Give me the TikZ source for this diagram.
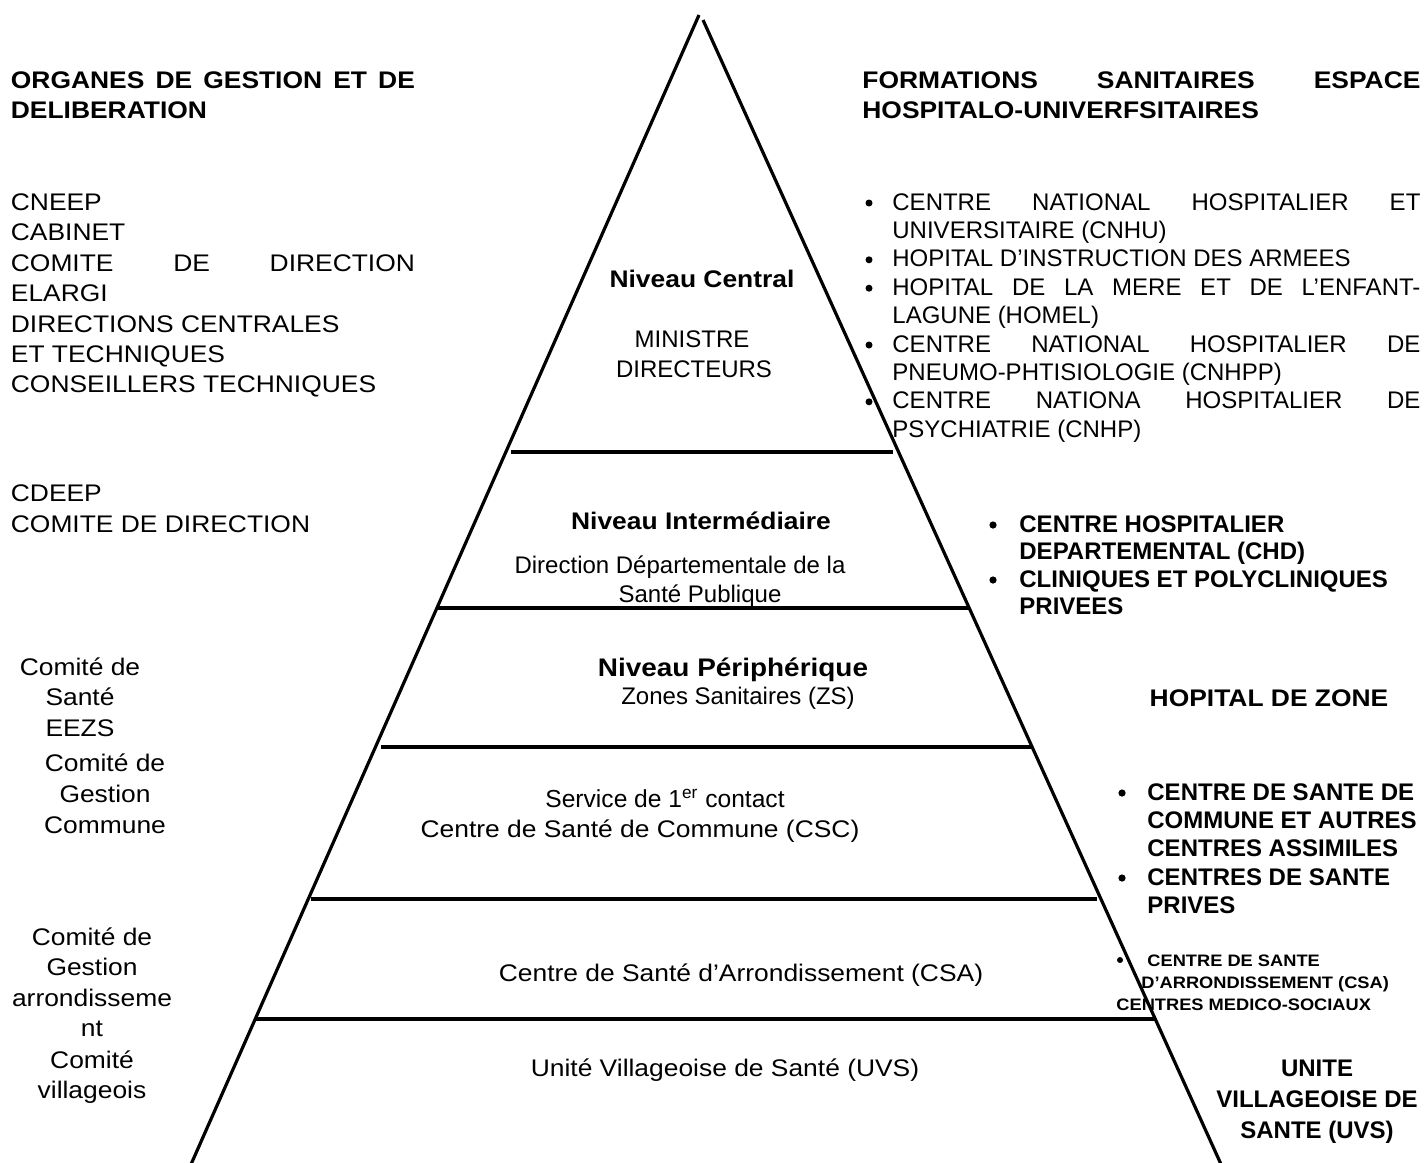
\documentclass[tikz,border=0pt]{standalone}
\usepackage{fontspec}
\setmainfont{Liberation Sans}[FakeStretch=1.1]
\newfontfamily\plainsans{Liberation Sans}

\tikzset{
  pyrside/.style={line width=1.6pt},
  tier/.style={line width=1.6pt},
  lefttxt/.style={inner sep=0pt,anchor=base west,font=\fontsize{12}{14}\selectfont},
  lefthead/.style={lefttxt,font=\fontsize{12}{14}\selectfont\bfseries},
  midtxt/.style={inner sep=0pt,anchor=base,font=\fontsize{12}{14}\selectfont},
  midplain/.style={inner sep=0pt,anchor=base,font=\plainsans\fontsize{12}{14}\selectfont},
  midhead/.style={midtxt,font=\fontsize{12}{14}\selectfont\bfseries},
  listtxt/.style={inner sep=0pt,anchor=base west,font=\plainsans\fontsize{12}{14}\selectfont},
  boldlist/.style={inner sep=0pt,anchor=base west,font=\plainsans\bfseries\fontsize{12}{14}\selectfont},
  boldmid/.style={inner sep=0pt,anchor=base,font=\plainsans\bfseries\fontsize{12}{14}\selectfont},
  smalllist/.style={inner sep=0pt,anchor=base west,font=\fontsize{8.3}{10}\selectfont\bfseries},
}

\begin{document}
\begin{tikzpicture}[x=0.5pt,y={(0pt,-0.5pt)}]
    \useasboundingbox (0,0) rectangle (1427,1162);

    % pyramid
    \coordinate (apexL) at (699,15);
    \coordinate (apexR) at (703,20);
    \coordinate (baseL) at (188.5,1170);
    \coordinate (baseR) at (1223.6,1170);
    \draw[pyrside] (apexL) -- (baseL);
    \draw[pyrside] (apexR) -- (baseR);

    \draw[tier] (511,452) -- (893,452);
    \draw[tier] (438,608) -- (968,608);
    \draw[tier] (381,747) -- (1032,747);
    \draw[tier] (311,899) -- (1097,899);
    \draw[tier] (256,1019) -- (1156,1019);

    % left column
    \node[lefthead] (orgA) at (10.5,88) {\makebox[202pt][s]{ORGANES DE GESTION ET DE}};
    \node[lefthead] (orgB) at (10.5,118) {DELIBERATION};

    \node[lefttxt] (cneep) at (10.5,210.5) {CNEEP};
    \node[lefttxt] (cabinet) at (10.5,240.9) {CABINET};
    \node[lefttxt] (codir) at (10.5,271.3) {\makebox[202pt][s]{COMITE DE DIRECTION}};
    \node[lefttxt] (elargi) at (10.5,301.7) {ELARGI};
    \node[lefttxt] (dircent) at (10.5,332.1) {DIRECTIONS CENTRALES};
    \node[lefttxt] (ettech) at (10.5,362.5) {ET TECHNIQUES};
    \node[lefttxt] (constech) at (10.5,392.9) {CONSEILLERS TECHNIQUES};

    \node[lefttxt] (cdeep) at (10.5,501.5) {CDEEP};
    \node[lefttxt] (codirB) at (10.5,532) {COMITE DE DIRECTION};

    \node[midtxt] (csA) at (80,675) {Comité de};
    \node[midtxt] (csB) at (80,705.5) {Santé};
    \node[midtxt] (csC) at (80,736) {EEZS};

    \node[midtxt] (cgA) at (105,771) {Comité de};
    \node[midtxt] (cgB) at (105,802) {Gestion};
    \node[midtxt] (cgC) at (105,833) {Commune};

    \node[midtxt] (caA) at (92,945) {Comité de};
    \node[midtxt] (caB) at (92,975.5) {Gestion};
    \node[midtxt] (caC) at (92,1006) {arrondisseme};
    \node[midtxt] (caD) at (92,1036.5) {nt};

    \node[midtxt] (cvA) at (92,1068) {Comité};
    \node[midtxt] (cvB) at (92,1098.5) {villageois};

    % levels inside the pyramid
    \node[midhead] (central) at (702,287) {Niveau Central};
    \node[midplain] (ministre) at (692,347) {MINISTRE};
    \node[midplain] (directeurs) at (694,377) {DIRECTEURS};

    \node[midhead] (interm) at (701,529) {Niveau Intermédiaire};
    \node[midplain] (ddspA) at (680,573) {Direction Départementale de la};
    \node[midplain] (ddspB) at (700,602) {Santé Publique};

    \node[midhead,font=\fontsize{12.7}{14}\selectfont\bfseries] (periph) at (733,676) {Niveau Périphérique};
    \node[midplain] (zones) at (738,704) {Zones Sanitaires (ZS)};

    \node[midplain,font=\plainsans\fontsize{12.3}{14}\selectfont] (contact) at (665,807) {Service de 1\textsuperscript{er} contact};
    \node[midtxt] (csc) at (640,837) {Centre de Santé de Commune (CSC)};

    \node[midtxt] (csa) at (741,981) {Centre de Santé d’Arrondissement (CSA)};

    \node[midtxt] (uvs) at (725,1076) {Unité Villageoise de Santé (UVS)};

    % right column
    \node[lefthead] (formA) at (862,88) {\makebox[279pt][s]{FORMATIONS SANITAIRES ESPACE}};
    \node[lefthead] (formB) at (862,118) {HOSPITALO-UNIVERFSITAIRES};

    \node[listtxt] (cnhuA) at (892,210) {\makebox[264pt][s]{CENTRE NATIONAL HOSPITALIER ET}};
    \node[listtxt] (cnhuB) at (892,238.4) {UNIVERSITAIRE (CNHU)};
    \node[listtxt] (hia) at (892,266.8) {HOPITAL D’INSTRUCTION DES ARMEES};
    \node[listtxt] (homelA) at (892,295.2) {\makebox[264pt][s]{HOPITAL DE LA MERE ET DE L’ENFANT-}};
    \node[listtxt] (homelB) at (892,323.6) {LAGUNE (HOMEL)};
    \node[listtxt] (cnhppA) at (892,352) {\makebox[264pt][s]{CENTRE NATIONAL HOSPITALIER DE}};
    \node[listtxt] (cnhppB) at (892,380.4) {PNEUMO-PHTISIOLOGIE (CNHPP)};
    \node[listtxt] (cnhpA) at (892,408.8) {\makebox[264pt][s]{CENTRE NATIONA HOSPITALIER DE}};
    \node[listtxt] (cnhpB) at (892,437.2) {PSYCHIATRIE (CNHP)};
    \fill (869,203) circle (1.75pt);
    \fill (869,259.8) circle (1.75pt);
    \fill (869,288.2) circle (1.75pt);
    \fill (869,345) circle (1.75pt);
    \fill (869,401.8) circle (1.75pt);

    \node[boldlist] (chdA) at (1019,532) {CENTRE HOSPITALIER};
    \node[boldlist] (chdB) at (1019,559.5) {DEPARTEMENTAL (CHD)};
    \node[boldlist] (cliA) at (1019,587) {CLINIQUES ET POLYCLINIQUES};
    \node[boldlist] (cliB) at (1019,614.5) {PRIVEES};
    \fill (993,525) circle (1.8pt);
    \fill (993,580) circle (1.8pt);

    \node[midhead] (hz) at (1269,706) {HOPITAL DE ZONE};

    \node[boldlist] (cscA) at (1147,800) {CENTRE DE SANTE DE};
    \node[boldlist] (cscB) at (1147,828) {COMMUNE ET AUTRES};
    \node[boldlist] (cscC) at (1147,856.5) {CENTRES ASSIMILES};
    \node[boldlist] (cspA) at (1147,885) {CENTRES DE SANTE};
    \node[boldlist] (cspB) at (1147,913) {PRIVES};
    \fill (1122,793) circle (1.8pt);
    \fill (1122,878) circle (1.8pt);

    \node[smalllist] (csaA) at (1147,966) {CENTRE DE SANTE};
    \node[smalllist] (csaB) at (1141,988) {D’ARRONDISSEMENT (CSA)};
    \node[smalllist] (cms) at (1116,1010) {CENTRES MEDICO-SOCIAUX};
    \fill (1120,960) circle (1.5pt);

    \node[boldmid] (uvsA) at (1317,1076) {UNITE};
    \node[boldmid] (uvsB) at (1317,1107) {VILLAGEOISE DE};
    \node[boldmid] (uvsC) at (1317,1138) {SANTE (UVS)};
\end{tikzpicture}
\end{document}
